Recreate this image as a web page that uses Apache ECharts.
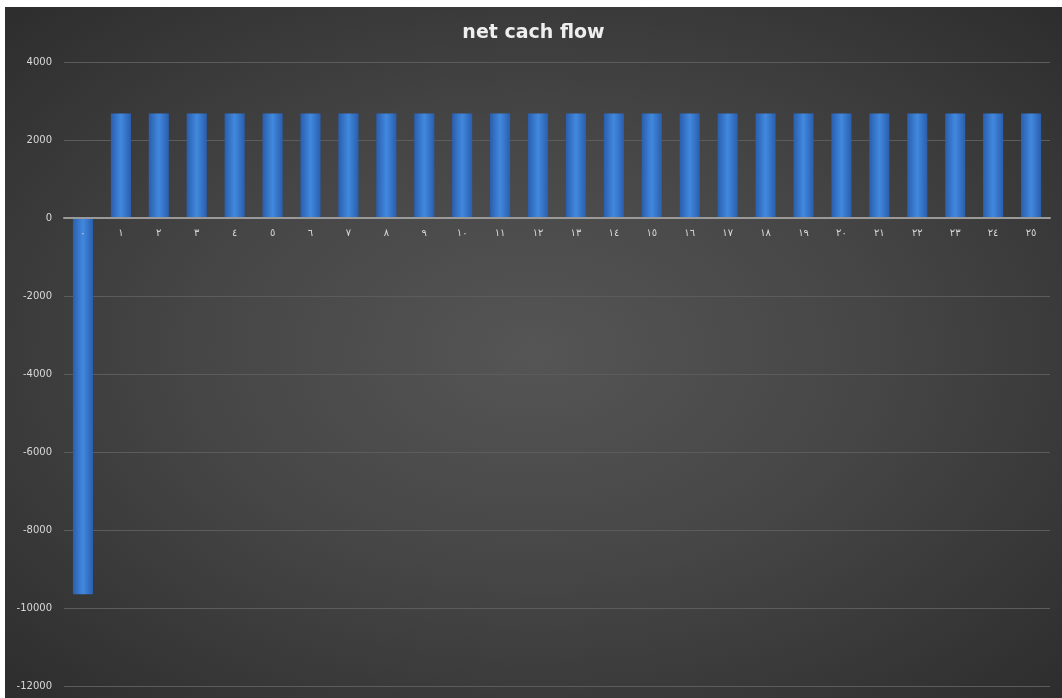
<!DOCTYPE html>
<html>
<head>
<meta charset="utf-8">
<script src="https://cdn.jsdelivr.net/npm/echarts@6/dist/echarts.min.js"></script>
<style>
  html, body { margin: 0; padding: 0; background: #ffffff; }
  #chart {
    position: absolute; left: 5px; top: 7px; width: 1057px; height: 691px;
    background: radial-gradient(ellipse at 50% 50%, #555555 0%, #464646 45%, #2d2d2d 100%);
  }
</style>
</head>
<body>
<div id="chart"></div>
<script>
const TITLE = "net cach flow"
const periods = ["٠", "١", "٢", "٣", "٤", "٥", "٦", "٧", "٨", "٩", "١٠", "١١", "١٢",
  "١٣", "١٤", "١٥", "١٦", "١٧", "١٨", "١٩", "٢٠", "٢١", "٢٢", "٢٣", "٢٤", "٢٥"]
const cashFlow = [-9650, 2680, 2680, 2680, 2680, 2680, 2680, 2680, 2680, 2680, 2680, 2680, 2680,
  2680, 2680, 2680, 2680, 2680, 2680, 2680, 2680, 2680, 2680, 2680, 2680, 2680]
const yTicks = { min: -12000, max: 4000, interval: 2000 }

const GRID = { top: 55, left: 59, right: 12, bottom: 12 }
const el = document.getElementById("chart")
const chart = echarts.init(el)

// keep the category axis (line + labels) sitting on the zero line
const plotH = el.clientHeight - GRID.top - GRID.bottom
const zeroOffset = -plotH * (0 - yTicks.min) / (yTicks.max - yTicks.min)

const barFill = new echarts.graphic.LinearGradient(0, 0, 1, 0, [
  { offset: 0, color: "#2a5eae" },
  { offset: 0.5, color: "#4189de" },
  { offset: 1, color: "#2a5eae" },
])

chart.setOption({
  backgroundColor: "transparent",
  title: {
    text: TITLE,
    left: "center",
    top: 12,
    textStyle: {
      color: "#eeeeee",
      fontFamily: "DejaVu Sans",
      fontWeight: "bold",
      fontSize: 19,
    },
  },
  grid: GRID,
  xAxis: {
    type: "category",
    data: periods,
    offset: zeroOffset,
    axisLine: { onZero: false, lineStyle: { color: "#9a9a9a", width: 2 } },
    axisTick: { show: false },
    axisLabel: { color: "#d8d8d8", fontFamily: "DejaVu Sans", fontSize: 10, margin: 10 },
    z: 10,
  },
  yAxis: {
    type: "value",
    min: yTicks.min,
    max: yTicks.max,
    interval: yTicks.interval,
    axisLine: { show: false },
    axisTick: { show: false },
    axisLabel: {
      color: "#d8d8d8", fontFamily: "DejaVu Sans", fontSize: 10, margin: 12,
      formatter: v => String(v),
    },
    splitLine: { lineStyle: { color: "#5c5c5c", width: 1 } },
  },
  series: [{
    type: "bar",
    data: cashFlow,
    barWidth: "53%",
    itemStyle: {
      color: barFill,
      shadowColor: "rgba(0,0,0,0.35)",
      shadowBlur: 3,
      shadowOffsetX: 1,
    },
  }],
})
</script>
</body>
</html>
